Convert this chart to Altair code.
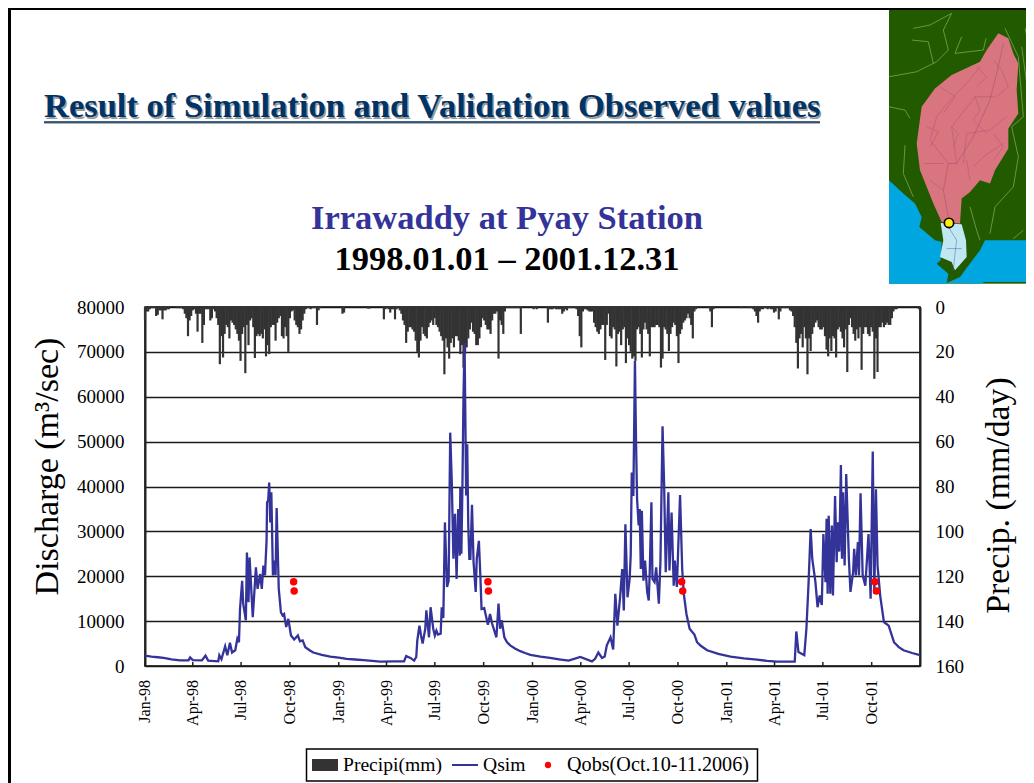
import urllib.parse
import altair as alt
import pandas as pd

# ---- Data ---------------------------------------------------------------------
START = pd.Timestamp("1998-01-01")

# Simulated discharge (m3/s): day offset from 1998-01-01 and value (drawn in date order)
q_days = [0,35,66,82,85,90,107,114,119,138,140,144,151,155,160,164,170,174,177,179,183,185,190,192,195,197,203,209,212,217,220,223,226,229,230,232,234,236,238,241,244,246,248,252,256,259,262,266,270,275,281,288,292,297,302,317,349,380,412,443,468,488,492,500,507,511,513,517,520,523,528,530,535,538,543,546,549,552,557,559,562,565,569,572,575,578,581,584,587,590,593,594,596,598,600,602,604,605,607,609,611,613,616,619,623,625,629,632,634,639,646,650,654,662,666,669,672,677,688,707,726,763,798,820,842,848,854,861,866,870,877,882,886,890,895,899,902,905,909,913,915,917,920,923,925,927,930,932,934,936,939,942,946,949,951,954,956,960,963,968,971,975,978,981,986,988,992,996,998,1002,1008,1012,1015,1020,1026,1035,1040,1059,1103,1153,1191,1224,1227,1231,1242,1246,1250,1254,1257,1263,1267,1271,1275,1278,1282,1284,1286,1288,1291,1294,1296,1300,1303,1305,1308,1311,1313,1315,1318,1321,1326,1329,1334,1336,1339,1343,1345,1348,1352,1357,1363,1367,1371,1374,1377,1380,1385,1392,1401,1411,1429,1460,
          12,24,50,310,333,365,396,428,682,697,716,745,780,1047,1080,1128,1172,1420,1445]
q_vals = [2300,1800,1260,1260,1900,1300,1250,2300,1200,1050,2400,1500,4400,2400,5200,3000,3500,6100,5300,12700,19000,13900,10200,25300,14200,24200,10900,22000,17200,20500,17200,22400,20200,27900,36500,36800,40900,32000,38700,20200,23500,20200,35200,17200,12000,11300,11600,8700,10500,6800,5900,6800,5500,5700,4200,3000,2100,1600,1300,960,1040,1040,2200,1800,1200,2000,5700,9000,6800,5000,8300,12400,6400,13100,8300,6800,7900,7000,7200,13100,10700,32000,17600,19000,52000,40900,23900,33900,19400,35000,24600,39800,25000,40200,60200,72000,49800,38000,49400,31300,23900,23900,35900,23100,16500,23900,27900,19400,12700,12900,9200,11600,9400,6400,13900,8300,10200,6400,4600,3300,2500,1800,1200,2000,1040,1600,3000,1800,2100,4600,6400,3700,16100,9000,15300,21600,12400,31600,15300,19400,24600,43100,37900,68000,50500,37200,31300,35000,21600,34600,19000,23500,16500,14600,21600,36500,19400,18700,22000,13900,23100,53400,40200,20900,38700,21300,34200,17900,23500,17600,38100,21600,16100,11600,8300,7000,5300,3500,2100,1400,960,960,7700,3100,2400,8300,18300,30500,23900,18700,13100,15700,13600,29400,18700,32800,16100,33500,16100,31300,15700,37900,23100,32000,25500,44800,23900,38700,22400,42800,23900,16500,20900,26100,20200,27600,20200,38500,20200,17900,29400,15000,47800,16100,39400,22400,15700,9800,9000,5300,3500,2400,
          2100,1950,1500,3500,2500,1850,1450,1150,5300,3900,2900,2100,1500,4500,2700,1700,1150,4200,2900]

# Observed discharge points
obs_days = [280,281,646,647,1011,1013,1375,1378]
obs_vals = [18800,16700,18800,16700,18800,16700,18800,16700]

# Precipitation (mm/day), one reading every third day, by year
precip_1998 = [6,2,2,1,.5,.5,.5,4,3.5,1.5,1.5,5.5,1.5,1.5,1,1,0,0,0,0,.5,.5,.5,.5,1,3,5,13,6,4,1.5,1,3,11,3,3,16,8,1,1,1,6,5,1,2,5,8,25.5,13,22.5,12,8,9,14,6,7,8,10,12,15,24,12,9,29.5,8,17,6,5,9,22.7,13,12,13,12,14,10,22,17,21,9,8,8,15,7,5,4,13,14,9,13,20,5,2,1.5,6,8,9,12,10,6,3,1,.5,.5,1,.5,.5,.5,8,1.5,.5,0,0,0,0,0,0,0,0,0,0,0]
precip_1999 = [0,0,3,2.5,0,0,0,0,0,0,0,0,0,0,0,0,0,0,.7,.7,0,0,0,0,0,0,0,0,5.5,1,.5,1,2.5,1,1,5.5,1,.5,1.5,3,6,8,16,11,9,9,10,11,15,20,22.5,15,9,12,13,14,9,7,6,8,5,8,9,11,13,15,30,14,18,23,16,14,18,13,13,15,21,17,27,21,18,14,10,7,11,12,17,17,14,9,5,6,8,10,10,12,6,3,3,2,23,6,8,12,2,.5,.5,.5,.5,.5,.5,.5,.5,.5,12,0,0,0,0,0,0,0]
precip_2000 = [1,.5,1,0,0,0,0,0,0,7,1,1,1,.5,1,1,1,1,3,2,1,1.5,.5,.5,.5,0,.5,1,4,13,18,2,1,1,1.5,2,2,2,7,9,11,12,10,8,8,23.6,8,3,13,14,9,10,26.5,12,11,17,10,9,25,14,17,20,23,22,24,10,9,12,22.5,10,7,10,12,22,9,9,9,8,8,9,27,23,9,10,12,19.6,12,9,7,8,13,25,12,10,7,6,5,3,5,8,14,2,1,0,0,0,0,0,0,0,.5,2,9,1,0,0,0,0,0,0,0,0]
precip_2001 = [0,0,0,0,0,0,0,0,.5,.5,0,0,.5,.5,.5,.5,1,2,4,7,2,1,1,.5,.5,1,.5,1,1,2.5,2,.5,5.5,2,.5,.5,.5,.5,.5,1.5,2,4,9,16,27.4,14,12,18,9,14,30,14,19.6,12,9,7,6,9,10,10,9,13,19,22,14,19.6,13,14,22.5,10,9,11,14,18,10,29,8,5,9,12,15,10,14,9,28,12,9,9,12,13,9,11,32,14,29,9,9,7,9,8,7,8,8,5,2,1,1,0,0,0,0,0,0,0,0,0,0,0,0,0,1,0]

tick_dates = ["1998-01-01","1998-04-01","1998-07-01","1998-10-01","1999-01-01","1999-04-01","1999-07-01","1999-10-01",
              "2000-01-01","2000-04-01","2000-07-01","2000-10-01","2001-01-01","2001-04-01","2001-07-01","2001-10-01"]
tick_labels = ["Jan-98","Apr-98","Jul-98","Oct-98","Jan-99","Apr-99","Jul-99","Oct-99",
               "Jan-00","Apr-00","Jul-00","Oct-00","Jan-01","Apr-01","Jul-01","Oct-01"]

# ---- Page geometry (reference pixels) -----------------------------------------
PX0, PY0 = 145, 307
W, H = 775, 359
FONT = "Liberation Serif"
def px(x): return x - PX0
def py(y): return y - PY0

def day(d): return (START + pd.Timedelta(days=int(d))).strftime("%Y-%m-%d")

q_df = pd.DataFrame({"date": [day(d) for d in q_days], "q": q_vals})
obs_df = pd.DataFrame({"date": [day(d) for d in obs_days], "q": obs_vals})
precip = precip_1998 + precip_1999 + precip_2000 + precip_2001
p_df = pd.DataFrame({"date": [day(i * 3) for i in range(len(precip))], "p": precip})
t_df = pd.DataFrame({"date": tick_dates, "label": tick_labels})

x_scale = alt.Scale(type="utc", domain=["1998-01-01", "2001-12-31"], nice=False, padding=0)
x_plain = alt.X("date:T", scale=x_scale, axis=None)
q_scale = alt.Scale(domain=[0, 80000], nice=False, zero=True)
p_scale = alt.Scale(domain=[0, 160], reverse=True, nice=False)
BLUE = "#333399"

# Axes + grid layer
grid_layer = alt.Chart(q_df).mark_line(opacity=0).encode(
    x=x_plain,
    y=alt.Y("q:Q", scale=q_scale, axis=alt.Axis(
        values=list(range(0, 80001, 10000)), format="d", orient="left",
        labelFont=FONT, labelFontSize=19, labelColor="black", labelPadding=21,
        ticks=False, grid=True, gridColor="#1a1a1a", gridWidth=1.4, gridOpacity=1,
        domainColor="#222222", domainWidth=2,
        title="Discharge (m³/sec)", titleFont=FONT, titleFontSize=34, titleFontWeight="normal",
        titleColor="black", titleBaseline="middle", titleX=-98, titleY=159)),
)
bars = alt.Chart(p_df).mark_bar(size=2.2, color="#333333").encode(
    x=x_plain,
    y=alt.Y("p:Q", scale=p_scale, axis=alt.Axis(
        values=list(range(0, 161, 20)), orient="right", labelFont=FONT, labelFontSize=19,
        labelColor="black", labelPadding=15, ticks=False, grid=False, domainColor="#222222",
        domainWidth=2, title="Precip. (mm/day)", titleFont=FONT, titleFontSize=33.8,
        titleFontWeight="normal", titleColor="black", titleAngle=270, titleBaseline="middle",
        titleX=78, titleY=188)),
)
line = alt.Chart(q_df).mark_line(color=BLUE, strokeWidth=2.3, interpolate="linear").encode(
    x=x_plain, y=alt.Y("q:Q", scale=q_scale, axis=None))
points = alt.Chart(obs_df).mark_circle(color="#ff0000", size=56, opacity=1).encode(
    x=x_plain, y=alt.Y("q:Q", scale=q_scale, axis=None))
ticks = alt.Chart(t_df).mark_rule(color="#222222", strokeWidth=1.5).encode(
    x=x_plain, y=alt.value(H - 4), y2=alt.value(H))
tick_text = alt.Chart(t_df).mark_text(font=FONT, fontSize=16, color="black", angle=270,
                                      align="right", baseline="middle").encode(
    x=x_plain, y=alt.value(py(680)), text="label:N")

one = alt.Data(values=[{"a": 1}])

def text(t, x, y, size, color="black", weight="normal", align="left"):
    return alt.Chart(one).mark_text(text=t, font=FONT, fontSize=size, color=color,
                                    fontWeight=weight, align=align, baseline="alphabetic").encode(
        x=alt.value(px(x)), y=alt.value(py(y)))

def hrule(x1, x2, y, color="black", w=1.0):
    return alt.Chart(one).mark_rule(color=color, strokeWidth=w).encode(
        x=alt.value(px(x1)), x2=alt.value(px(x2)), y=alt.value(py(y)))

def box(x1, x2, y1, y2, fill, stroke=None, sw=0):
    kw = dict(fill=fill)
    if stroke:
        kw.update(stroke=stroke, strokeWidth=sw)
    return alt.Chart(one).mark_rect(**kw).encode(
        x=alt.value(px(x1)), x2=alt.value(px(x2)), y=alt.value(py(y1)), y2=alt.value(py(y2)))

# ---- Inset basin map ----------------------------------------------------------
def poly(points, fill):
    return f'<polygon fill="{fill}" points="' + " ".join(f"{a},{b}" for a, b in points) + '"/>'
def pline(points, color, w):
    return f'<polyline fill="none" stroke="{color}" stroke-width="{w}" points="' + " ".join(f"{a},{b}" for a, b in points) + '"/>'

sea = [(27,540),(70,580),(105,610),(125,650),(118,680),(165,720),(185,725),(182,780),(170,790),(205,820),(200,850),(27,850)]
sea2 = [(200,848),(240,830),(262,800),(300,750),(315,720),(462,720),(462,845),(310,845),(310,850)]
basin = [(355,100),(385,115),(400,160),(415,190),(410,270),(415,340),(385,385),(385,445),(345,510),(330,550),(300,540),(270,575),(245,595),(240,670),(185,665),(160,610),(120,510),(110,430),(125,320),(165,265),(215,225),(300,185),(320,150)]
delta = [(182,668),(245,672),(258,720),(260,770),(225,810),(215,785),(180,770),(190,720)]
pale = "#8fb070"
river = "#a8466f"
svg_parts = [
    '<rect x="27" y="30" width="435" height="820" fill="#225a00"/>',
    poly(sea, "#00a6e0"), poly(sea2, "#00a6e0"),
    poly(basin, "#d9757f"), poly(delta, "#bfe8f2"),
    pline([(27,230),(110,215),(170,185),(205,150),(190,90),(215,40)], pale, 2),
    pline([(100,85),(150,75),(215,40)], pale, 2),
    pline([(95,120),(145,125),(160,190)], pale, 2),
    pline([(225,160),(245,110)], pale, 2),
    pline([(225,160),(310,150),(318,115)], pale, 2),
    pline([(27,320),(75,330),(90,355)], pale, 2),
    pline([(75,435),(70,520),(100,590)], pale, 2),
    pline([(375,85),(415,170),(430,350),(395,380),(415,470),(400,560),(345,620),(330,700)], pale, 2),
    pline([(435,85),(450,150)], pale, 2),
    pline([(425,140),(450,320)], pale, 2),
    pline([(270,620),(290,690),(300,720)], pale, 2),
    pline([(430,690),(400,715)], pale, 2),
    pline([(205,650),(190,570),(205,490),(230,490),(280,410),(330,300),(350,220),(370,130)], river, 1.5),
    pline([(205,490),(150,420),(170,350),(210,300)], river, 1.2),
    pline([(230,490),(215,380),(285,290),(345,290)], river, 1.2),
    pline([(250,490),(260,400),(330,390),(380,350)], river, 1.2),
    pline([(280,500),(310,470),(370,430)], river, 1.2),
    pline([(130,490),(190,490)], river, 1.2),
    pline([(190,570),(150,540)], river, 1.2),
    pline([(210,300),(260,250),(300,200)], river, 1.2),
    pline([(270,540),(260,480)], river, 1.2),
    pline([(140,380),(175,395),(150,440)], river, 1.2),
    pline([(215,380),(235,400),(220,440)], river, 1.2),
    pline([(285,290),(300,330),(280,360),(320,400)], river, 1.2),
    pline([(340,180),(365,210),(385,260),(350,290)], river, 1.2),
    pline([(290,200),(320,230),(290,260)], river, 1.2),
    pline([(180,260),(225,290),(190,340)], river, 1.2),
    pline([(340,400),(370,440),(340,480)], river, 1.2),
    pline([(205,680),(230,720),(225,760),(220,810)], "#5060b0", 1.5),
    pline([(200,745),(245,745)], "#5060b0", 1.5),
    '<circle cx="207" cy="668" r="14" fill="#ffee00" stroke="black" stroke-width="5"/>',
]
svg = ('<svg xmlns="http://www.w3.org/2000/svg" width="145" height="273.67" viewBox="27 30 435 821" '
       'preserveAspectRatio="none">' + "".join(svg_parts) + "</svg>")
map_url = "data:image/svg+xml," + urllib.parse.quote(svg)
map_img = alt.Chart(one).mark_image(url=map_url, width=145, height=274, align="left", baseline="top",
                                    aspect=False).encode(x=alt.value(px(889)), y=alt.value(py(10)))

TITLE_COLOR = "#003366"
layers = [
    hrule(8, 1034, 8.5, w=3),
    alt.Chart(one).mark_rule(color="black", strokeWidth=3).encode(
        x=alt.value(px(9.5)), y=alt.value(py(8)), y2=alt.value(py(783))),
    text("Result of Simulation and Validation Observed values", 45.5, 118.5, 34.5, "#9a9a9a", "bold"),
    text("Result of Simulation and Validation Observed values", 44, 117, 34.5, TITLE_COLOR, "bold"),
    hrule(44, 820, 123, "#9a9a9a", 1.5),
    hrule(44, 820, 122, TITLE_COLOR, 1.5),
    text("Irrawaddy at Pyay Station", 507, 229, 34.5, BLUE, "bold", "center"),
    text("1998.01.01 – 2001.12.31", 507, 270, 34.5, "black", "bold", "center"),
    map_img,
    grid_layer, bars, line, points, ticks, tick_text,
    box(306.5, 757.5, 749, 781, "white", "black", 1.5),
    box(312, 338, 759, 771, "#333333"),
    hrule(452, 478, 765, BLUE, 2),
    alt.Chart(one).mark_circle(color="#ff0000", size=40, opacity=1).encode(
        x=alt.value(px(548)), y=alt.value(py(765))),
    text("Precipi(mm)", 343, 771, 19.6),
    text("Qsim", 483, 771, 19.6),
    text("Qobs(Oct.10-11.2006)", 567, 771, 20.2),
]

chart = alt.layer(*layers).resolve_scale(y="independent", x="shared").properties(
    width=W, height=H,
    autosize=alt.AutoSizeParams(type="none"),
    padding={"left": PX0 - 8, "top": PY0 - 8, "right": 1018 - (PX0 - 8) - W, "bottom": 775 - (PY0 - 8) - H},
    background="white",
).configure_view(stroke="black", strokeWidth=1.5)

chart.save("out.html", embed_options={"renderer": "svg", "actions": False})
